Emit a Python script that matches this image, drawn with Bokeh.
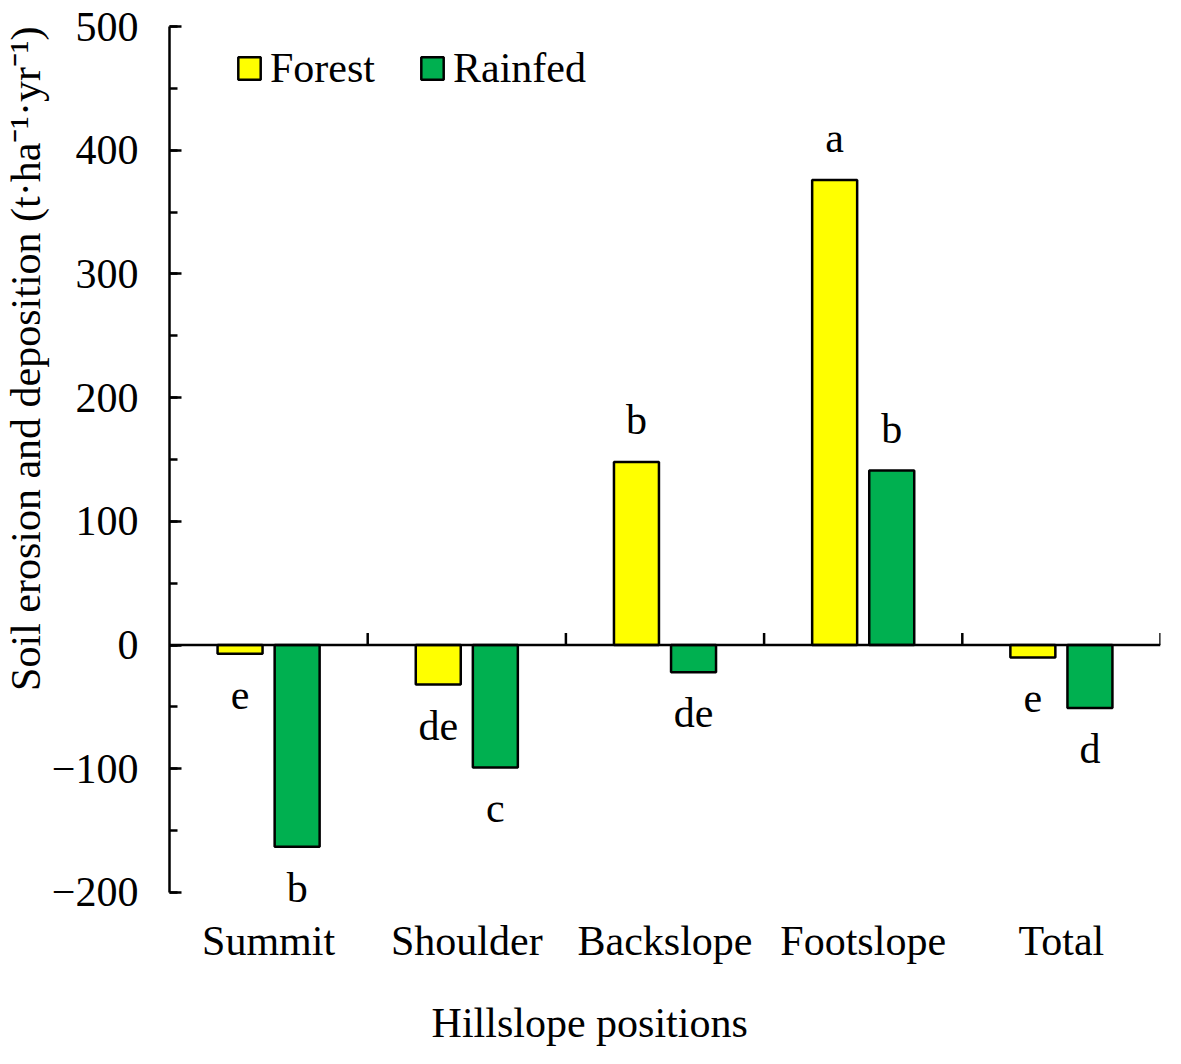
import numpy as np
from bokeh.plotting import figure
from bokeh.models import (Span, Legend, LegendItem, SingleIntervalTicker,
                          FixedTicker, Range1d, LinearAxis, Title)
from bokeh.core.properties import value
from bokeh.embed import file_html
from bokeh.resources import INLINE

# ---- data ----
categories = ["Summit", "Shoulder", "Backslope", "Footslope", "Total"]
forest = [-7, -32, 148, 376, -10]
rainfed = [-163, -99, -22, 141, -51]
forest_letters = ["e", "de", "b", "a", "e"]
rainfed_letters = ["b", "c", "de", "b", "d"]
y_label = "Soil erosion and deposition (t\u00b7ha\u207b\u00b9\u00b7yr\u207b\u00b9)"
x_label = "Hillslope positions"
y_min, y_max = -200, 500

FONT = "Liberation Serif"
FS = "42px"
YELLOW = "#FFFF00"
GREEN = "#00B050"

n = len(categories)
centers = np.arange(n) + 0.5
off = 0.144
bw = 0.227

p = figure(width=1165, height=1048, x_range=Range1d(0, n), y_range=Range1d(y_min - 13, y_max),
           output_backend="svg", toolbar_location=None,
           min_border_left=150, min_border_right=5, min_border_top=26, min_border_bottom=139)
p.outline_line_color = None
p.xgrid.visible = False
p.ygrid.visible = False

rf = p.vbar(x=centers - off, top=forest, bottom=0, width=bw, fill_color=YELLOW,
            line_color="black", line_width=2.5)
rr = p.vbar(x=centers + off, top=rainfed, bottom=0, width=bw, fill_color=GREEN,
            line_color="black", line_width=2.5)

# zero axis line with category boundary ticks
p.add_layout(Span(location=0, dimension="width", line_color="black", line_width=2.5))
bounds = np.arange(1, n + 1)
p.segment(x0=bounds, y0=0, x1=bounds, y1=9.7, line_color="black", line_width=2.5)

# significance letters
def offs(vals):
    return [41 if v < 0 else -42 for v in vals]

p.text(x=centers - off, y=forest, text=forest_letters, text_font=value(FONT),
       text_font_size=FS, text_align="center", text_baseline="alphabetic",
       y_offset=offs(forest), text_color="black")
p.text(x=centers + off, y=rainfed, text=rainfed_letters, text_font=value(FONT),
       text_font_size=FS, text_align="center", text_baseline="alphabetic",
       y_offset=offs(rainfed), text_color="black")

# y axis
ya = p.yaxis[0]
ya.ticker = SingleIntervalTicker(interval=100, num_minor_ticks=2)
ya.bounds = (y_min, y_max)
ya.axis_line_width = 2.5
ya.axis_line_color = "black"
ya.major_tick_in = 12
ya.major_tick_out = 0
ya.minor_tick_in = 8
ya.minor_tick_out = 0
ya.major_tick_line_width = 2.5
ya.minor_tick_line_width = 2.5
ya.major_label_text_font = FONT
ya.major_label_text_font_size = FS
ya.major_label_text_color = "black"
ya.major_label_standoff = 31
ya.major_label_overrides = {-200: "\u2212200", -100: "\u2212100"}

# x axis (category labels only)
xa = p.xaxis[0]
xa.ticker = FixedTicker(ticks=list(centers))
xa.major_label_overrides = {float(c): name for c, name in zip(centers, categories)}
xa.axis_line_color = None
xa.major_tick_line_color = None
xa.minor_tick_line_color = None
xa.major_label_text_font = FONT
xa.major_label_text_font_size = FS
xa.major_label_text_color = "black"
xa.major_label_standoff = 3

# x axis title, placed as a second label-only axis below
title_pos = 2.12
xt = LinearAxis(ticker=FixedTicker(ticks=[title_pos]),
                major_label_overrides={title_pos: x_label},
                axis_line_color=None, major_tick_line_color=None,
                minor_tick_line_color=None, major_label_text_font=FONT,
                major_label_text_font_size=FS, major_label_text_color="black",
                major_label_standoff=27)
p.add_layout(xt, "below")

# y axis title
p.add_layout(Title(text=y_label, align="right", offset=0, standoff=0,
                   text_font=FONT, text_font_size=FS, text_font_style="normal",
                   text_color="black"), "left")

legend = Legend(items=[LegendItem(label="Forest", renderers=[rf]),
                       LegendItem(label="Rainfed", renderers=[rr])],
                orientation="horizontal", location=(66, 816),
                border_line_color=None, background_fill_alpha=0,
                glyph_width=28, glyph_height=28, label_height=22,
                label_text_font=FONT, label_text_font_size=FS,
                label_text_color="black", padding=0, margin=0, spacing=43,
                label_standoff=7, label_text_baseline="middle")
p.add_layout(legend)

open("out.html", "w").write(file_html(p, INLINE))
